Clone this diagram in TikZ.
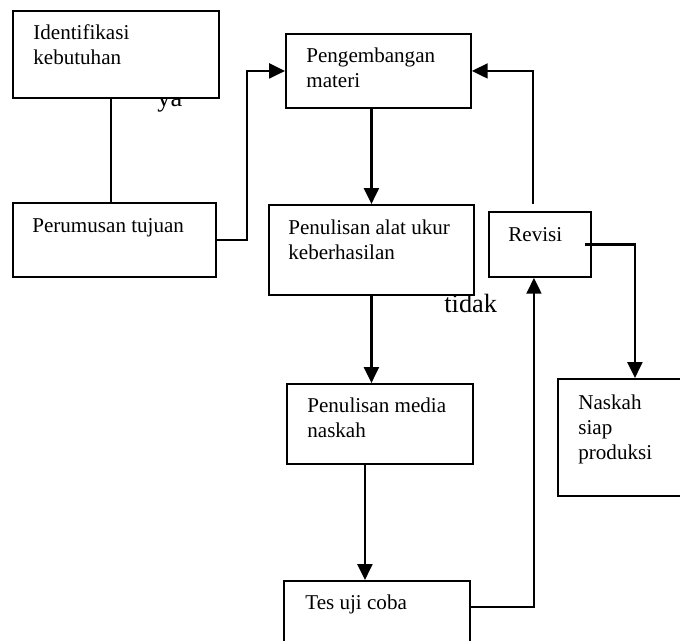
\documentclass[tikz,border=0pt]{standalone}
\usepackage{fontspec}
\setmainfont{Liberation Serif}
\usetikzlibrary{arrows.meta}
\tikzset{
  box/.style = {shape=rectangle, draw, line width=1.1pt, fill=white,
                anchor=north west, inner sep=0pt},
  boxtext/.style = {anchor=base west, text width=3.6cm, align=flush left, inner sep=0pt,
                    font=\fontsize{12pt}{14.2pt}\selectfont},
  note/.style = {anchor=base west, inner sep=0pt,
                 font=\fontsize{15pt}{18pt}\selectfont},
  line/.style = {line width=1.2pt},
  arrow/.style = {line width=1.2pt, -{Triangle[length=9pt,width=8.5pt]}}
}
\begin{document}
\begin{tikzpicture}[x=0.02cm, y=-0.02cm]
  \useasboundingbox (0,0) rectangle (680,641);
  % labels first, the boxes lie over them
  \node (ya) [note] at (157,107) {ya};
  \node (tidak) [note] at (444,313) {tidak};

  \node (ident) [box, minimum width=4.12cm, minimum height=1.74cm] at (12,10) {};
  \node (rumus) [box, minimum width=4.06cm, minimum height=1.48cm] at (12,202) {};
  \node (kembang) [box, minimum width=3.70cm, minimum height=1.48cm] at (285,33) {};
  \node (alat) [box, minimum width=4.10cm, minimum height=1.80cm] at (268,204) {};
  \node (revisi) [box, minimum width=2.04cm, minimum height=1.30cm] at (488,211) {};
  \node (media) [box, minimum width=3.72cm, minimum height=1.60cm] at (286,383) {};
  \node (naskah) [box, minimum width=2.66cm, minimum height=2.34cm] at (557,378) {};
  \node (tes) [box, minimum width=3.72cm, minimum height=1.60cm] at (283,580) {};

  \node (ident-t) [boxtext] at ([shift={(21,30)}]ident.north west) {Identifikasi\\kebutuhan};
  \node (rumus-t) [boxtext] at ([shift={(20,31)}]rumus.north west) {Perumusan tujuan};
  \node (kembang-t) [boxtext] at ([shift={(21,30)}]kembang.north west) {Pengembangan\\materi};
  \node (alat-t) [boxtext] at ([shift={(20,31)}]alat.north west) {Penulisan alat ukur\\keberhasilan};
  \node (revisi-t) [boxtext] at ([shift={(20,31)}]revisi.north west) {Revisi};
  \node (media-t) [boxtext] at ([shift={(21,30)}]media.north west) {Penulisan media\\naskah};
  \node (naskah-t) [boxtext] at ([shift={(21,32)}]naskah.north west) {Naskah\\siap\\produksi};
  \node (tes-t) [boxtext] at ([shift={(22,30)}]tes.north west) {Tes uji coba};

  \draw [line] ([xshift=-0.1cm]ident.south) -- ([xshift=-0.1cm]ident.south |- rumus.north);
  \draw [arrow] (rumus.east) -- ++(30,0) |- (kembang.west);
  \draw [arrow] (alat.north |- kembang.south) -- (alat.north);
  \draw [arrow] (alat.south) -- (alat.south |- media.north);
  \draw [arrow] ([xshift=-0.3cm]media.south) -- ([xshift=-0.3cm]media.south |- tes.north);
  \draw [arrow] ([yshift=-0.54cm]tes.north east) -| ([xshift=-0.12cm]revisi.south);
  \draw [arrow] ([shift={(-7,-7)}]revisi.north) |- (kembang.east);
  \draw [arrow] ([xshift=-0.14cm]revisi.east) -| ([xshift=0.21cm]naskah.north);
\end{tikzpicture}
\end{document}
